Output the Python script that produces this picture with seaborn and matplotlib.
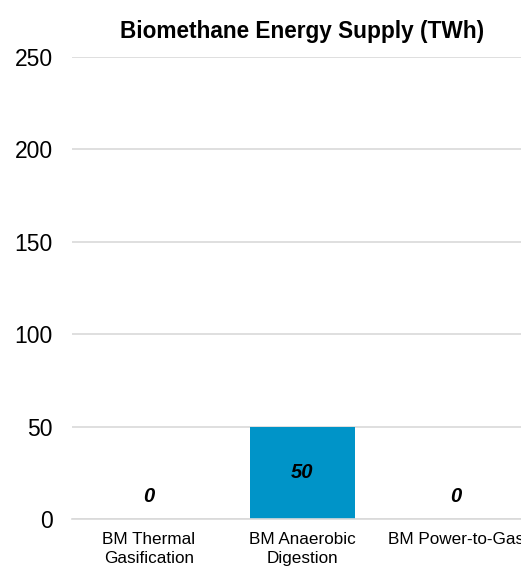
import seaborn as sns
import matplotlib.pyplot as plt
import pandas as pd

categories = ["BM Thermal\nGasification", "BM Anaerobic\nDigestion", "BM Power-to-Gas"]
supply_twh = [0, 50, 0]
y_ticks = [0, 50, 100, 150, 200, 250]

bar_color = "#0094C8"
grid_color = "#D9D9D9"


def main():
    sns.set_style("white")
    plt.rcParams['font.family'] = ['Liberation Sans', 'DejaVu Sans']
    plt.rcParams['text.color'] = 'black'
    plt.rcParams['xtick.color'] = 'black'
    plt.rcParams['ytick.color'] = 'black'

    df = pd.DataFrame({"category": categories, "supply": supply_twh})

    fig = plt.figure(figsize=(5.21, 5.70), dpi=100)
    # axes run past the right edge of the figure, as in the reference
    ax = fig.add_axes([72 / 521, 51 / 570, 461 / 521, 462 / 570])

    sns.barplot(data=df, x="category", y="supply", color=bar_color,
                saturation=1, width=0.68, linewidth=0, ax=ax)

    ax.set_ylim(0, 250)
    ax.set_yticks(y_ticks)
    ax.yaxis.grid(True, color=grid_color, linewidth=1.2)
    ax.set_axisbelow(True)
    for side in ["top", "right", "left"]:
        ax.spines[side].set_visible(False)
    ax.spines["bottom"].set_color(grid_color)
    ax.spines["bottom"].set_linewidth(1.2)

    ax.tick_params(axis="y", length=0, pad=14, labelsize=16.5, labelcolor="black")
    ax.tick_params(axis="x", length=0, pad=9, labelsize=12.3, labelcolor="black")
    for lbl in ax.get_xticklabels():
        lbl.set_linespacing(1.35)
    ax.set_xlabel("")
    ax.set_ylabel("")

    # value labels: centred in the bar, zero values sit just above the axis
    for i, v in enumerate(supply_twh):
        offset = 0 if v > 0 else 16
        ax.annotate(f"{v:g}", (i, v / 2), xytext=(0, offset),
                    textcoords="offset points", ha="center", va="center",
                    fontsize=14.5, fontweight="bold", fontstyle="italic",
                    color="black")

    ax.set_title("Biomethane Energy Supply (TWh)", fontsize=16.3,
                 fontweight="bold", pad=14, color="black")

    fig.savefig("out.png", dpi=100)


if __name__ == '__main__':
    main()
